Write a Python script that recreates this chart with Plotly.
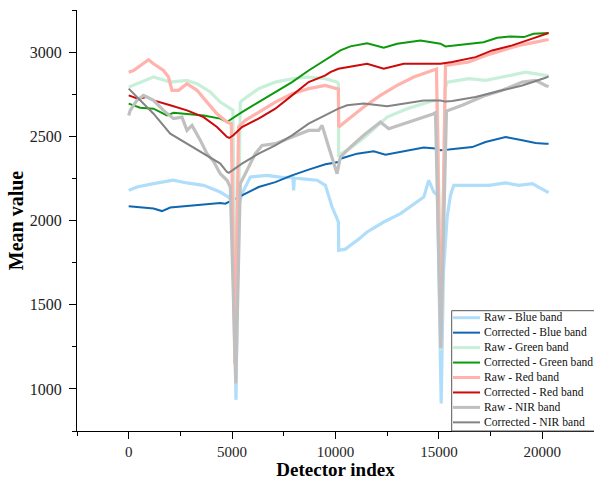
import plotly.graph_objects as go

# ---- detector-wise mean values per band ----
raw_blue_x = [0, 397, 1200, 2150, 2817, 3620, 4429, 4830, 5010, 5188, 5300, 5479, 5881, 6689, 7492, 7940, 7976, 8010, 8300, 9109,
              9511, 9835, 10077, 10140, 10154, 10479, 10721, 11045, 11529, 12332, 13141, 13784, 14268, 14510, 14752, 14930, 15110, 15221, 15401, 15560,
              15720, 16446, 17414, 18223, 18866, 19515, 20159, 20304]
raw_blue_y = [2179, 2199, 2219, 2239, 2223, 2209, 2169, 2139, 2110, 935, 2080, 2160, 2258, 2268, 2255, 2258, 2179, 2255, 2249, 2239,
              2209, 2080, 2011, 1990, 1823, 1830, 1853, 1882, 1932, 1991, 2041, 2100, 2139, 2239, 2169, 2150, 913, 1700, 2021, 2150,
              2209, 2209, 2209, 2223, 2209, 2219, 2175, 2165]

corr_blue_x = [0, 557, 1200, 1607, 2009, 2817, 3620, 4429, 4671, 4830, 5400, 6282, 7091, 7899, 8702, 9511, 10140, 10236, 11045, 11848,
               12416, 13300, 14268, 14835, 15077, 15478, 16611, 17255, 18223, 19031, 19675, 20159, 20304]
corr_blue_y = [2084, 2077, 2071, 2056, 2077, 2086, 2094, 2104, 2100, 2110, 2145, 2199, 2228, 2268, 2302, 2334, 2347, 2367, 2397, 2411,
               2391, 2411, 2433, 2427, 2417, 2421, 2436, 2466, 2496, 2476, 2460, 2456, 2456]

raw_green_x = [0, 557, 1200, 2009, 2817, 3301, 3945, 4429, 4913, 5035, 5203, 5397, 5479, 6282, 7091, 7899, 8702, 9511, 10077, 10140,
               10154, 10721, 11364, 12497, 13465, 14433, 14752, 14930, 15100, 15294, 15401, 16446, 17255, 18063, 19191, 20159, 20304]
raw_green_y = [2792, 2822, 2852, 2822, 2832, 2812, 2763, 2703, 2664, 2655, 1150, 2700, 2713, 2783, 2822, 2842, 2852, 2842, 2822, 2812,
               2390, 2430, 2490, 2614, 2664, 2703, 2713, 2710, 1230, 2780, 2822, 2842, 2832, 2852, 2881, 2862, 2858]

corr_green_x = [0, 557, 1200, 1849, 2168, 2817, 3620, 4429, 4753, 5058, 5479, 6282, 7091, 7899, 8702, 9511, 10140, 10236, 10721, 11529,
                12332, 12981, 14109, 15077, 15318, 16190, 17158, 17821, 18465, 19108, 19578, 20304]
corr_green_y = [2694, 2670, 2664, 2624, 2640, 2634, 2624, 2605, 2585, 2610, 2644, 2703, 2763, 2822, 2891, 2951, 3000, 3010, 3034, 3053,
                3026, 3050, 3069, 3050, 3034, 3046, 3059, 3085, 3093, 3089, 3109, 3113]

raw_red_x = [0, 232, 958, 1200, 1684, 1926, 2091, 2410, 2817, 3301, 3785, 4269, 4753, 4961, 5130, 5314, 5639, 6282, 7091, 7899,
             8702, 9511, 10077, 10140, 10154, 10561, 11364, 12173, 12981, 13784, 14593, 14835, 14883, 15100, 15318, 16446, 17255, 18063, 18866, 19675,
             20159, 20304]
raw_red_y = [2881, 2891, 2955, 2931, 2891, 2852, 2773, 2773, 2812, 2773, 2703, 2634, 2585, 2575, 1150, 2555, 2595, 2644, 2703, 2753,
             2783, 2802, 2783, 2780, 2555, 2595, 2674, 2743, 2802, 2852, 2891, 2901, 2900, 1250, 2921, 2941, 2980, 3010, 3040, 3059,
             3069, 3075]

corr_red_x = [0, 474, 881, 1200, 2009, 2817, 3620, 4269, 4753, 4865, 5058, 5479, 6282, 7091, 7899, 8702, 9511, 9753, 10140, 10561,
              11529, 12332, 13300, 14268, 15077, 15643, 16771, 17579, 18547, 19515, 20159, 20304]
corr_red_y = [2743, 2722, 2735, 2713, 2684, 2654, 2614, 2555, 2496, 2490, 2506, 2555, 2605, 2664, 2743, 2822, 2862, 2881, 2901, 2911,
              2931, 2901, 2931, 2931, 2931, 2941, 2970, 3010, 3040, 3080, 3109, 3113]

raw_nir_x = [0, 73, 397, 716, 1200, 1684, 2168, 2575, 2817, 3059, 3461, 3785, 4104, 4429, 4753, 4913, 5179, 5397, 5639, 6123,
             6447, 7091, 7899, 8702, 9186, 9351, 9670, 9995, 10077, 10236, 10721, 11364, 12173, 12574, 13300, 14109, 14752, 14835, 15090, 15365,
             16127, 17255, 18063, 19031, 19675, 20159, 20304]
raw_nir_y = [2624, 2654, 2713, 2743, 2713, 2654, 2605, 2614, 2535, 2565, 2476, 2397, 2350, 2278, 2239, 2199, 1032, 2219, 2278, 2397,
             2446, 2456, 2496, 2535, 2535, 2565, 2436, 2298, 2278, 2377, 2436, 2506, 2585, 2545, 2575, 2605, 2634, 2640, 1240, 2650,
             2684, 2743, 2773, 2822, 2832, 2802, 2795]

corr_nir_x = [0, 557, 1200, 2009, 2817, 3620, 4429, 4753, 4840, 5479, 6282, 7091, 7899, 8702, 9511, 10140, 10561, 11364, 12497, 13300,
              14268, 15077, 15318, 15643, 16771, 18063, 19031, 20159, 20304]
corr_nir_y = [2783, 2713, 2634, 2516, 2456, 2397, 2338, 2288, 2283, 2338, 2397, 2446, 2506, 2575, 2624, 2664, 2684, 2694, 2678, 2694,
              2713, 2713, 2706, 2709, 2733, 2773, 2802, 2848, 2856]

series_names = ["Raw - Blue band", "Corrected - Blue band", "Raw - Green band", "Corrected - Green band",
                "Raw - Red band", "Corrected - Red band", "Raw - NIR band", "Corrected - NIR band"]
series_x = [raw_blue_x, corr_blue_x, raw_green_x, corr_green_x, raw_red_x, corr_red_x, raw_nir_x, corr_nir_x]
series_y = [raw_blue_y, corr_blue_y, raw_green_y, corr_green_y, raw_red_y, corr_red_y, raw_nir_y, corr_nir_y]
series_colors = ["#b0defa", "#0f67b0", "#c8efd8", "#0c9a0c", "#ffb3ac", "#cc0a0a", "#c0c0c0", "#838383"]
series_widths = [3.2, 2, 3.2, 2, 3.2, 2, 3.2, 2]

FONT = "Liberation Serif, Times New Roman, serif"

fig = go.Figure()
for name, xs, ys, col, w in zip(series_names, series_x, series_y, series_colors, series_widths):
    fig.add_trace(go.Scatter(x=xs, y=ys, mode="lines", name=name,
                             line=dict(color=col, width=w), showlegend=False))

# ---- boxed legend drawn in paper coordinates ----
W, H = 594, 480
ML, MR, MT, MB = 77, 0, 10, 49
PW, PH = W - ML - MR, H - MT - MB


def px_to_paper_x(px):
    return (px - ML) / PW


def px_to_paper_y(py):
    return (H - MB - py) / PH


box_left, box_top, box_bottom = 451.7, 310.7, 431
fig.add_shape(type="rect", xref="paper", yref="paper",
              x0=px_to_paper_x(box_left), x1=px_to_paper_x(box_left + 160),
              y0=px_to_paper_y(box_bottom), y1=px_to_paper_y(box_top),
              line=dict(color="#555555", width=1), fillcolor="white", layer="above")
row0, row_step = 317.7, 14.95
for i, (name, col, w) in enumerate(zip(series_names, series_colors, series_widths)):
    yy = px_to_paper_y(row0 + i * row_step)
    fig.add_shape(type="line", xref="paper", yref="paper",
                  x0=px_to_paper_x(453), x1=px_to_paper_x(480), y0=yy, y1=yy,
                  line=dict(color=col, width=3 if w > 2 else 2), layer="above")
    fig.add_annotation(text=name, xref="paper", yref="paper",
                       x=px_to_paper_x(481.5), y=yy, xanchor="left", yanchor="middle",
                       showarrow=False, font=dict(family=FONT, size=11.6, color="#111111"))

axis_common = dict(showline=True, linecolor="black", linewidth=1.3, ticks="outside",
                   tickcolor="black", tickwidth=1.3, ticklen=7, showgrid=False, zeroline=False,
                   tickformat="d")

fig.update_layout(
    width=W, height=H,
    margin=dict(l=ML, r=MR, t=MT, b=MB),
    paper_bgcolor="white", plot_bgcolor="white",
    showlegend=False,
    xaxis=dict(range=[-2500, 22500], tick0=0, dtick=5000,
               minor=dict(dtick=2500, tick0=0, ticks="outside", ticklen=4, tickcolor="black", tickwidth=1.3),
               ticklabelstandoff=0,
               tickfont=dict(family=FONT, size=15, color="#222222"),
               title=dict(text="<b>Detector index</b>", font=dict(family=FONT, size=19, color="black"), standoff=6),
               **axis_common),
    yaxis=dict(range=[750, 3250], tick0=0, dtick=500,
               minor=dict(dtick=250, tick0=0, ticks="outside", ticklen=4, tickcolor="black", tickwidth=1.3),
               ticklabelstandoff=4,
               tickfont=dict(family=FONT, size=16, color="#222222"),
               title=dict(text="<b>Mean value</b>", font=dict(family=FONT, size=20, color="black"), standoff=0),
               **axis_common),
)

fig.write_html("out.html")
